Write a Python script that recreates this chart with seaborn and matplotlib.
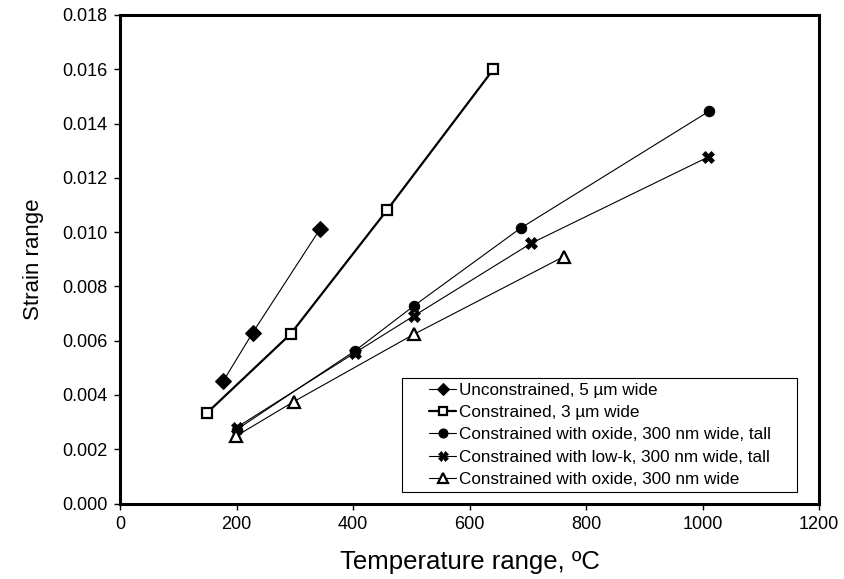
import matplotlib
matplotlib.use("Agg")
import matplotlib.pyplot as plt
import seaborn as sns
import pandas as pd
from matplotlib.ticker import FormatStrFormatter, MultipleLocator
from matplotlib.patches import Rectangle

sns.set_theme(style="white")
plt.rcParams['font.family'] = ['Liberation Sans', 'DejaVu Sans']

# Data
labels = [
    "Unconstrained, 5 µm wide",
    "Constrained, 3 µm wide",
    "Constrained with oxide, 300 nm wide, tall",
    "Constrained with low-k, 300 nm wide, tall",
    "Constrained with oxide, 300 nm wide",
]
unc5_x = [177, 228, 343]
unc5_y = [0.00450, 0.00630, 0.01010]
con3_x = [150, 293, 458, 641]
con3_y = [0.00335, 0.00625, 0.01080, 0.01600]
oxt_x = [200, 403, 505, 688, 1011]
oxt_y = [0.00272, 0.00562, 0.00729, 0.01015, 0.01445]
lowk_x = [200, 403, 505, 706, 1010]
lowk_y = [0.00280, 0.00555, 0.00692, 0.00959, 0.01277]
ox_x = [199, 298, 504, 762]
ox_y = [0.00248, 0.00375, 0.00623, 0.00910]

series = [(unc5_x, unc5_y), (con3_x, con3_y), (oxt_x, oxt_y), (lowk_x, lowk_y), (ox_x, ox_y)]
styles = [
    dict(marker="D", markersize=8.5, markerfacecolor="black", markeredgecolor="black", linewidth=0.8),
    dict(marker="s", markersize=7, markerfacecolor="white", markeredgecolor="black", markeredgewidth=1.6, linewidth=1.6),
    dict(marker="o", markersize=7.5, markerfacecolor="black", markeredgecolor="black", linewidth=0.8),
    dict(marker="X", markersize=8, markerfacecolor="black", markeredgecolor="black", markeredgewidth=0.5, linewidth=0.8),
    dict(marker="^", markersize=9, markerfacecolor="white", markeredgecolor="black", markeredgewidth=1.6, linewidth=0.8),
]
legend_msize = [6, 6, 6.5, 6.5, 7]

fig = plt.figure(figsize=(8.45, 5.79), dpi=100)
ax = fig.add_axes([120/845, 1-503.5/579, (819-120)/845, (503.5-15)/579])

for (xs, ys), lab, st in zip(series, labels, styles):
    df = pd.DataFrame({"x": xs, "y": ys})
    sns.lineplot(data=df, x="x", y="y", ax=ax, color="black", sort=False,
                 label=lab, **st)

ax.set_xlim(0, 1200)
ax.set_ylim(0, 0.018)
ax.xaxis.set_major_locator(MultipleLocator(200))
ax.yaxis.set_major_locator(MultipleLocator(0.002))
ax.yaxis.set_major_formatter(FormatStrFormatter("%.3f"))
ax.tick_params(axis="both", direction="out", length=4, width=1, color="black",
               labelsize=13, labelcolor="black", bottom=True, left=True, pad=5)
for s in ax.spines.values():
    s.set_visible(True)
    s.set_linewidth(2.2)
    s.set_color("black")
ax.set_xlabel("Temperature range, ºC", fontsize=18.5, color="black", labelpad=12)
ax.set_ylabel("Strain range", fontsize=16, color="black", labelpad=13)
ax.grid(False)

leg = ax.legend(loc="lower right", bbox_to_anchor=(0.9313, 0.034), borderaxespad=0,
                fontsize=12.3, frameon=False, handlelength=1.6, handletextpad=0.15,
                labelspacing=0.43, borderpad=0)
leg.set_zorder(6)
for t in leg.get_texts():
    t.set_color("black")
for ln, ms in zip(leg.get_lines(), legend_msize):
    ln.set_markersize(ms)

# frame around legend with extra side padding (Excel style)
fig.canvas.draw()
bb = leg.get_window_extent()
inv = ax.transAxes.inverted()
(ax0, ay0) = inv.transform((bb.x0 - 27, bb.y0 - 5))
(ax1, ay1) = inv.transform((bb.x1 + 26, bb.y1 + 5))
rect = Rectangle((ax0, ay0), ax1 - ax0, ay1 - ay0, transform=ax.transAxes,
                 facecolor="white", edgecolor="black", linewidth=0.8, zorder=5,
                 clip_on=False)
ax.add_patch(rect)

fig.savefig("out.png", dpi=100, facecolor="white")
